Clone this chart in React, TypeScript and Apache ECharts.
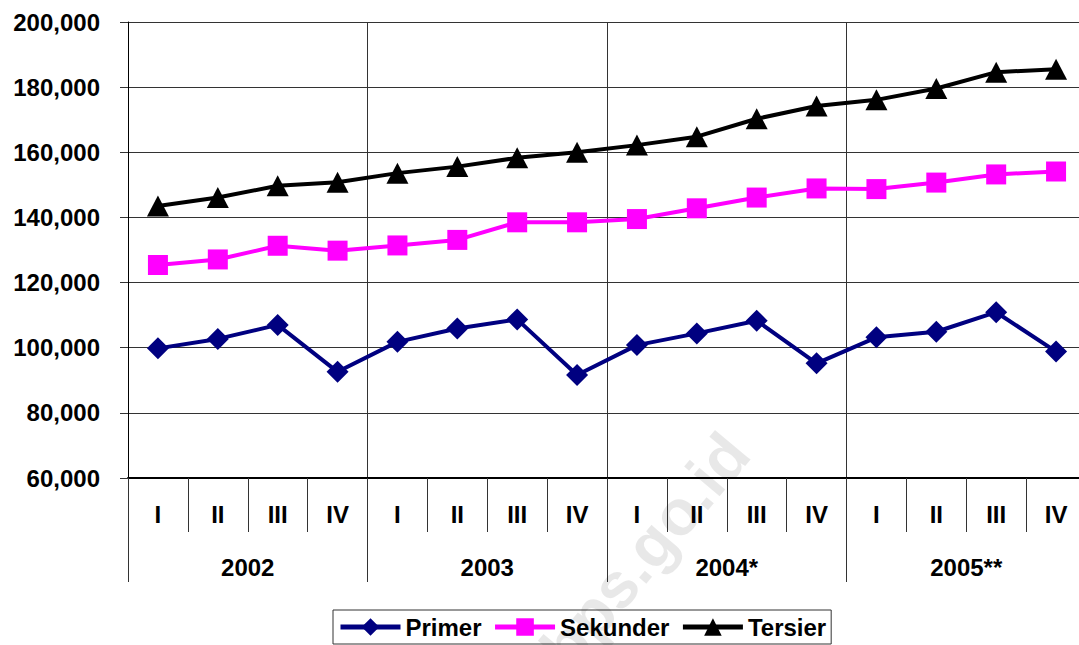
import React, { useEffect, useRef } from "react";
import * as echarts from "echarts";

const quarters = ["I", "II", "III", "IV", "I", "II", "III", "IV", "I", "II", "III", "IV", "I", "II", "III", "IV"];
const years = ["2002", "2003", "2004*", "2005**"];
const primer = [99800, 102700, 107000, 92600, 101800, 105900, 108700, 91600, 100800, 104400, 108300, 95200, 103200, 104900, 110900, 98800];
const sekunder = [125400, 127100, 131300, 129800, 131400, 133100, 138500, 138500, 139500, 142800, 146100, 148900, 148700, 150700, 153200, 154100];
const tersier = [143500, 146100, 149700, 150800, 153600, 155600, 158300, 160000, 162200, 164800, 170300, 174200, 176100, 179600, 184600, 185500];

const FONT = "'Liberation Sans', Arial, sans-serif";

export default function App() {
  const ref = useRef<HTMLDivElement>(null);
  useEffect(() => {
    document.body.style.margin = "0";
    const chart = echarts.init(ref.current!, null, { renderer: "svg" });
    const txt = { fontFamily: FONT, fontSize: 24, fontWeight: "bold" as const, color: "#000" };
    chart.setOption({
      animation: false,
      backgroundColor: "#fff",
      textStyle: { fontFamily: FONT },
      grid: { left: 128, width: 958, top: 22, bottom: 167, containLabel: false, outerBoundsMode: "none" },
      xAxis: [
        {
          type: "category",
          data: quarters,
          position: "bottom",
          boundaryGap: true,
          axisLine: { show: true, lineStyle: { color: "#000", width: 2 } },
          axisTick: { show: true, interval: 0, length: 54, lineStyle: { color: "#333", width: 1 } },
          axisLabel: { ...txt, interval: 0, margin: 24 },
          splitLine: { show: false },
        },
        {
          type: "category",
          data: years,
          position: "bottom",
          boundaryGap: true,
          axisLine: { show: false },
          axisTick: { show: true, interval: 0, length: 104, lineStyle: { color: "#333", width: 1 } },
          axisLabel: { ...txt, interval: 0, margin: 77 },
          splitLine: { show: true, interval: 0, lineStyle: { color: "#333", width: 1 } },
        },
      ],
      yAxis: {
        type: "value",
        min: 60000,
        max: 200000,
        interval: 20000,
        axisLine: { show: true, lineStyle: { color: "#000", width: 1 } },
        axisTick: { show: true, length: 8, lineStyle: { color: "#333" } },
        axisLabel: { ...txt, margin: 28, formatter: (v: number) => v.toLocaleString("en-US") },
        splitLine: { show: true, lineStyle: { color: "#333", width: 1 } },
      },
      legend: {
        left: 333,
        top: 610,
        padding: [5, 5, 5, 5],
        borderColor: "#333",
        borderWidth: 1,
        itemWidth: 60,
        itemHeight: 22,
        itemGap: 11,
        textStyle: txt,
        lineStyle: { width: 5 },
        data: ["Primer", "Sekunder", "Tersier"],
      },
      graphic: [
        {
          type: "text",
          x: 645,
          y: 551,
          rotation: (50 * Math.PI) / 180,
          silent: true,
          z: 100,
          style: {
            text: "bps.go.id",
            fontFamily: FONT,
            fontSize: 64,
            fontWeight: "bold",
            fill: "rgba(0,0,0,0.09)",
            align: "center",
            verticalAlign: "middle",
          },
        },
      ],
      series: [
        {
          name: "Primer",
          type: "line",
          xAxisIndex: 0,
          data: primer,
          symbol: "diamond",
          symbolSize: 22,
          color: "#000080",
          lineStyle: { color: "#000080", width: 4 },
          itemStyle: { color: "#000080" },
        },
        {
          name: "Sekunder",
          type: "line",
          xAxisIndex: 0,
          data: sekunder,
          symbol: "rect",
          symbolSize: 20,
          color: "#FF00FF",
          lineStyle: { color: "#FF00FF", width: 4 },
          itemStyle: { color: "#FF00FF" },
        },
        {
          name: "Tersier",
          type: "line",
          xAxisIndex: 0,
          data: tersier,
          symbol: "triangle",
          symbolSize: [22, 21],
          color: "#000",
          lineStyle: { color: "#000", width: 4 },
          itemStyle: { color: "#000" },
        },
      ],
    });
    return () => chart.dispose();
  }, []);
  return <div ref={ref} style={{ position: "fixed", left: 0, top: 0, width: 1079, height: 645 }} />;
}
